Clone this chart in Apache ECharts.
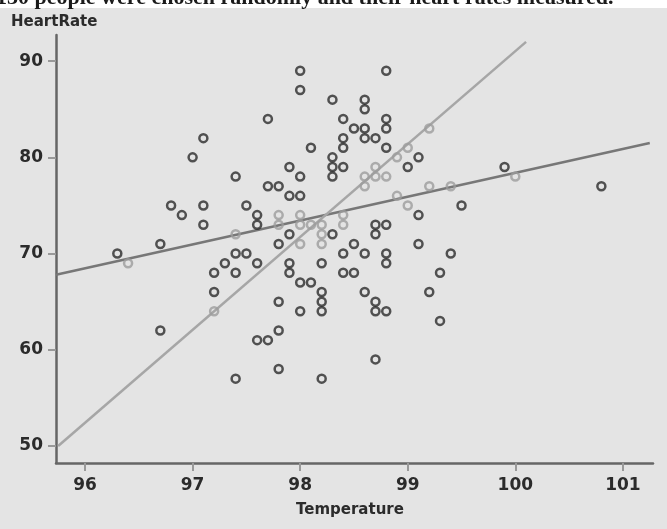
<!DOCTYPE html>
<html>
<head>
<meta charset="utf-8">
<script src="https://cdn.jsdelivr.net/npm/echarts@6/dist/echarts.min.js"></script>
<style>
html,body{margin:0;padding:0;background:#ffffff;}
#chart{width:667px;height:529px;}
</style>
</head>
<body>
<div id="chart"></div>
<script>
var xTicks = [96, 97, 98, 99, 100, 101];
var yTicks = [50, 60, 70, 80, 90];

var darkPoints = [
  [98.0,89],[98.8,89],[98.0,87],[98.3,86],[98.6,86],[98.6,85],[97.7,84],[98.4,84],[98.8,84],
  [98.5,83],[98.6,83],[98.8,83],[97.1,82],[98.4,82],[98.6,82],[98.7,82],[98.1,81],[98.4,81],
  [98.8,81],[97.0,80],[98.3,80],[99.1,80],[97.9,79],[98.3,79],[98.4,79],[99.0,79],[99.9,79],
  [97.4,78],[98.0,78],[98.3,78],[97.7,77],[97.8,77],[100.8,77],[97.9,76],[98.0,76],[96.8,75],
  [97.1,75],[97.5,75],[99.5,75],[96.9,74],[97.6,74],[99.1,74],[97.1,73],[97.6,73],[98.7,73],
  [98.8,73],[97.9,72],[98.3,72],[98.7,72],[96.7,71],[97.8,71],[98.5,71],[99.1,71],[96.3,70],
  [97.4,70],[97.5,70],[98.4,70],[98.6,70],[98.8,70],[99.4,70],[97.3,69],[97.6,69],[97.9,69],
  [98.2,69],[98.8,69],[97.2,68],[97.4,68],[97.9,68],[98.4,68],[98.5,68],[99.3,68],[98.0,67],
  [98.1,67],[97.2,66],[98.2,66],[98.6,66],[99.2,66],[97.8,65],[98.2,65],[98.7,65],[98.0,64],
  [98.2,64],[98.7,64],[98.8,64],[99.3,63],[96.7,62],[97.8,62],[97.6,61],[97.7,61],[98.7,59],
  [97.8,58],[97.4,57],[98.2,57]
];

var grayPoints = [
  [99.2,83],[99.0,81],[98.9,80],[98.7,79],[98.6,78],[98.7,78],[98.8,78],[100.0,78],[98.6,77],
  [99.2,77],[99.4,77],[98.9,76],[99.0,75],[97.8,74],[98.0,74],[98.4,74],[97.8,73],[98.0,73],
  [98.1,73],[98.2,73],[98.4,73],[97.4,72],[98.2,72],[98.0,71],[98.2,71],[96.4,69],[97.2,64]
];

var shallowLine = [[95.73,67.8],[101.25,81.5]];
var steepLine = [[95.75,50],[100.1,92]];

var chart = echarts.init(document.getElementById('chart'), null, {renderer:'canvas'});
var tickFont = {fontFamily:'DejaVu Sans', fontWeight:'bold', fontSize:17, color:'#2b2b2b'};

chart.setOption({
  backgroundColor:'#ffffff',
  animation:false,
  graphic:[
    {type:'rect', z:-10, shape:{x:0,y:8,width:667,height:521}, style:{fill:'#e4e4e4'}},
    {type:'text', left:-4, top:-13, style:{text:'130 people were chosen randomly and their heart rates measured.', font:'bold 22px "Liberation Serif"', fill:'#1a1a1a'}},
    {type:'text', left:11, top:15, style:{text:'HeartRate', font:'bold 15px "DejaVu Sans"', fill:'#2b2b2b'}},
    {type:'text', left:296, top:503, style:{text:'Temperature', font:'bold 15px "DejaVu Sans"', fill:'#2b2b2b'}}
  ],
  grid:{left:56, top:35, right:14, bottom:66, containLabel:false},
  xAxis:{
    type:'value', min:95.73, max:101.28,
    axisLine:{show:true, onZero:false, lineStyle:{color:'#666', width:2.5}},
    axisTick:{show:true, length:8, customValues:xTicks, lineStyle:{color:'#999', width:2}},
    axisLabel:{customValues:xTicks, margin:14, ...tickFont},
    splitLine:{show:false}
  },
  yAxis:{
    type:'value', min:48.23, max:92.72,
    axisLine:{show:true, onZero:false, lineStyle:{color:'#666', width:2.5}},
    axisTick:{show:true, length:8, customValues:yTicks, lineStyle:{color:'#999', width:2}},
    axisLabel:{customValues:yTicks, margin:13, ...tickFont},
    splitLine:{show:false}
  },
  series:[
    {type:'line', data:shallowLine, symbol:'none', z:2, lineStyle:{color:'#777', width:2.5}},
    {type:'line', data:steepLine, symbol:'none', z:2, lineStyle:{color:'#a6a6a6', width:2.5}},
    {type:'scatter', data:grayPoints, symbol:'circle', symbolSize:8, z:3,
      itemStyle:{color:'rgba(0,0,0,0)', borderColor:'#9c9c9c', borderWidth:2.5}},
    {type:'scatter', data:darkPoints, symbol:'circle', symbolSize:8, z:4,
      itemStyle:{color:'rgba(0,0,0,0)', borderColor:'#2a2a2a', borderWidth:2.5}}
  ]
});
</script>
</body>
</html>
